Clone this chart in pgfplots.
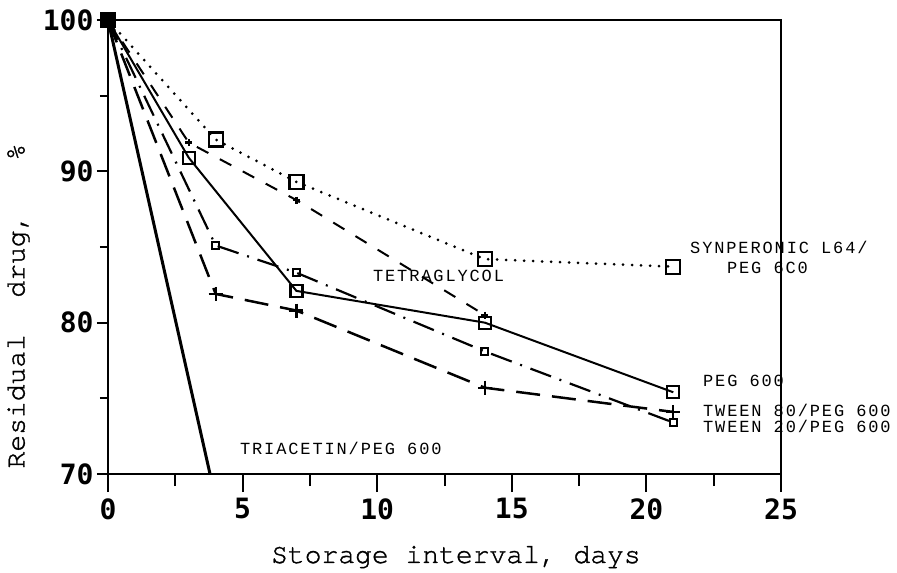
\documentclass[border=0pt]{standalone}
\usepackage{fontspec}
\usepackage{pgfplots}
\pgfplotsset{compat=1.18}
\newfontfamily\tickfont{DejaVu Sans Mono}
\newfontfamily\labfont[FakeBold=1.2]{TeX Gyre Cursor}
\newfontfamily\annfont[LetterSpace=11]{Liberation Mono}
\begin{document}
\begin{tikzpicture}
\pgfplotsset{
  base/.style={
    scale only axis, width=673pt, height=454pt,
    xmin=0, xmax=25, ymin=70, ymax=100,
    clip=false,
    /pgf/number format/assume math mode=true,
    tick label style={font=\tickfont\bfseries\fontsize{28}{28}\selectfont},
    tick style={line width=2pt, black},
  }
}
% y ticks axis
\begin{axis}[base,
  hide x axis,
  axis y line*=left,
  axis line style={line width=2.6pt},
  ytick={70,80,90,100},
  minor y tick num=1,
  tick align=outside,
  major tick length=11pt, minor tick length=8pt,
  ylabel={Residual\hspace{1.3em}drug,\hspace{1.9em}\%},
  ylabel style={font=\labfont\fontsize{28}{28}\selectfont, at={(axis description cs:-0.133,0.37)}, anchor=center},
]
\end{axis}
\begin{axis}[base,
  axis line style={line width=2.6pt},
  xtick={0,5,10,15,20,25},
  minor x tick num=1,
  xtick pos=bottom,
  ytick=\empty,
  tick align=outside,
  major tick length=18pt, minor tick length=12pt,
  xticklabel style={yshift=-3pt},
  xlabel={Storage interval, days},
  xlabel style={font=\labfont\fontsize{28}{28}\selectfont, at={(axis description cs:0.517,-0.196)}, anchor=base},
]
% Synperonic L64/PEG 600
\addplot[black, line width=3pt, line cap=round, dash pattern=on 0pt off 9pt,
  mark=square, mark size=7pt, mark options={solid, line width=2.2pt, fill=white}]
  coordinates {(0,100) (4,92.1) (7,89.3) (14,84.2) (21,83.7)};
% Tetraglycol
\addplot[black, line width=2pt, dash pattern=on 13pt off 13pt,
  mark=+, mark size=3.5pt, mark options={solid, line width=2.2pt}]
  coordinates {(0,100) (3,91.9) (7,88.1) (14,80.5)};
% PEG 600
\addplot[black, line width=2pt,
  mark=square, mark size=6pt, mark options={solid, line width=2.2pt, fill=white}]
  coordinates {(0,100) (3,90.9) (7,82.1) (14,80.0) (21,75.4)};
% Tween 20/PEG 600
\addplot[black, line width=2.2pt, dash pattern=on 22pt off 9pt on 2pt off 9pt,
  mark=square, mark size=3.5pt, mark options={solid, line width=2.2pt, fill=white}]
  coordinates {(0,100) (4,85.1) (7,83.3) (14,78.1) (21,73.4)};
% Tween 80/PEG 600
\addplot[black, line width=2.5pt, dash pattern=on 24pt off 12pt,
  mark=+, mark size=7pt, mark options={solid, line width=2.2pt}]
  coordinates {(0,100) (4,81.9) (7,80.8) (14,75.7) (21,74.1)};
% Triacetin/PEG 600
\addplot[black, line width=3pt] coordinates {(0,100) (3.79,70)};
% common start point
\addplot[only marks, mark=square*, mark size=5pt, black] coordinates {(0,100)};
% annotations
\begin{scope}[every node/.style={font=\annfont\fontsize{17}{17}\selectfont, inner sep=0pt, anchor=base west}]
\node at (axis cs:21.62,84.54) {SYNPERONIC L64/};
\node at (axis cs:22.99,83.28) {PEG 6C0};
\node at (axis cs:22.10,75.75) {PEG 600};
\node at (axis cs:22.10,73.82) {TWEEN 80/PEG 600};
\node at (axis cs:22.10,72.74) {TWEEN 20/PEG 600};
\node at (axis cs:9.84,82.69) {TETRAGLYCOL};
\node at (axis cs:4.90,71.26) {TRIACETIN/PEG 600};
\end{scope}
\end{axis}
\pgfresetboundingbox
\useasboundingbox (-108pt,-99pt) rectangle (789pt,474pt);
\end{tikzpicture}
\end{document}
